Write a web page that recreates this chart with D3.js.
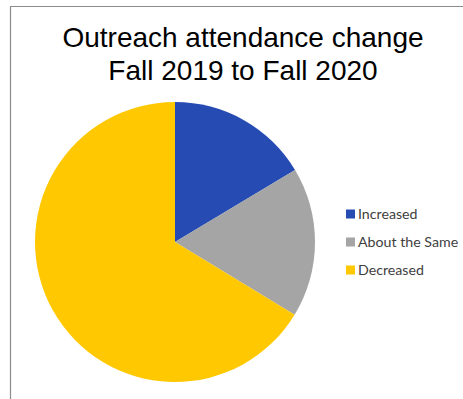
<!DOCTYPE html>
<html>
<head>
<meta charset="utf-8">
<script src="https://cdn.jsdelivr.net/npm/d3@7"></script>
<style>
  html, body { margin: 0; padding: 0; background: #fff; }
  svg { display: block; }
</style>
</head>
<body>
<svg id="chart" width="463" height="399"></svg>
<script>
// Share of outreach programs by attendance change (percent)
const categories = ["Increased", "About the Same", "Decreased"];
const values = [16.4, 17.3, 66.3];
const colors = ["#264cb4", "#a5a5a5", "#ffc800"];
const titleLines = ["Outreach attendance change", "Fall 2019 to Fall 2020"];

const svg = d3.select("#chart");

// chart area frame (top and left edges visible)
svg.append("path")
  .attr("d", "M10.5,399 L10.5,6.5 L463,6.5")
  .attr("fill", "none")
  .attr("stroke", "#8c8c8c")
  .attr("stroke-width", 1.2);

// title
svg.append("text")
  .attr("x", 243)
  .attr("text-anchor", "middle")
  .attr("font-family", "Liberation Sans, Arial, sans-serif")
  .attr("font-size", 28)
  .attr("fill", "#000")
  .selectAll("tspan")
  .data(titleLines)
  .join("tspan")
  .attr("x", 243)
  .attr("y", (d, i) => 47 + i * 33)
  .text(d => d);

// pie
const cx = 175, cy = 242, r = 140;
const pie = d3.pie().sort(null).value(d => d.value);
const arc = d3.arc().innerRadius(0).outerRadius(r);
const data = categories.map((c, i) => ({ name: c, value: values[i] }));
const color = d3.scaleOrdinal().domain(categories).range(colors);

svg.append("g")
  .attr("transform", `translate(${cx},${cy})`)
  .selectAll("path")
  .data(pie(data))
  .join("path")
  .attr("d", arc)
  .attr("fill", d => color(d.data.name));

// legend
const y = d3.scalePoint().domain(categories).range([214, 270]);
const legend = svg.append("g")
  .selectAll("g")
  .data(categories)
  .join("g")
  .attr("transform", d => `translate(346,${y(d)})`);

legend.append("rect")
  .attr("x", 0).attr("y", -4.5)
  .attr("width", 9).attr("height", 9)
  .attr("fill", d => color(d));

legend.append("text")
  .attr("x", 12)
  .attr("dy", "0.35em")
  .attr("font-family", "Lato, 'Open Sans', sans-serif")
  .attr("font-size", 14.2)
  .attr("fill", "#404040")
  .text(d => d);
</script>
</body>
</html>
